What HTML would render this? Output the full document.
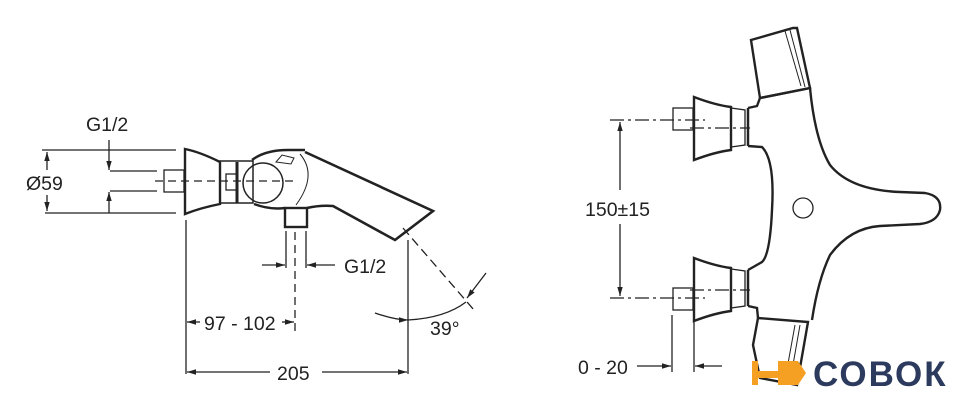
<!DOCTYPE html>
<html><head><meta charset="utf-8"><style>
html,body{margin:0;padding:0;background:#fff;}
svg{display:block;}
text{font-family:"Liberation Sans",sans-serif;font-size:19.5px;fill:#222;}
</style></head><body>
<svg width="970" height="418" viewBox="0 0 970 418" xmlns="http://www.w3.org/2000/svg">
<defs>
<marker id="a" viewBox="0 0 10 10" refX="10" refY="5" markerWidth="9" markerHeight="9" markerUnits="userSpaceOnUse" orient="auto-start-reverse"><path d="M0,2 L10,5 L0,8 z" fill="#222"/></marker>
</defs>
<g stroke="#222" fill="none" stroke-width="1.3">
<line x1="42" y1="150" x2="176" y2="150"/>
<line x1="45" y1="213" x2="176" y2="213"/>
<line x1="47" y1="152" x2="47" y2="170" marker-start="url(#a)"/>
<line x1="47" y1="195" x2="47" y2="211" marker-end="url(#a)"/>
<line x1="109" y1="140" x2="109" y2="170" marker-end="url(#a)"/>
<line x1="109" y1="192" x2="109" y2="213" marker-start="url(#a)"/>
<line x1="110" y1="171" x2="157" y2="171"/>
<line x1="110" y1="191" x2="157" y2="191"/>
<rect x="164" y="170" width="20" height="22"/>
<line x1="155" y1="181" x2="293" y2="181" stroke-dasharray="8,5"/>
<path d="M185,149 Q200,152 220,162 L220,204 Q200,208 185,214 Z" stroke-width="2.4"/>
<rect x="220" y="161" width="33" height="42" stroke-width="1.5"/>
<line x1="237" y1="162" x2="237" y2="203" stroke-width="3"/>
<rect x="226" y="174" width="11" height="16"/>
<circle cx="263" cy="183" r="20" stroke-width="1.5"/>
<path d="M252,160 Q265,150 288,150 L305,150" stroke-width="2.4"/>
<path d="M300,154 Q318,175 296,205" stroke-width="1"/>
<path d="M276,162 l6,-7 l12,3 l-3,6 z" stroke-width="1"/>
<path d="M305,152 L433,211 L395,240 L333,206 Q320,205 307,208" stroke-width="2.6"/>
<path d="M254,204 Q270,210 285,208" stroke-width="2.4"/>
<rect x="285" y="208" width="22" height="19" stroke-width="2.4"/>
<line x1="286" y1="231" x2="286" y2="268"/>
<line x1="306" y1="231" x2="306" y2="268"/>
<line x1="262" y1="265" x2="285" y2="265" marker-end="url(#a)"/>
<line x1="335" y1="265" x2="307" y2="265" marker-end="url(#a)"/>
<line x1="295" y1="232" x2="295" y2="332" stroke-dasharray="8,5"/>
<line x1="186" y1="220" x2="186" y2="374"/>
<line x1="408" y1="240" x2="408" y2="374"/>
<line x1="200" y1="322" x2="187" y2="322" marker-end="url(#a)"/>
<line x1="282" y1="322" x2="294" y2="322" marker-end="url(#a)"/>
<line x1="270" y1="372" x2="187" y2="372" marker-end="url(#a)"/>
<line x1="322" y1="372" x2="407" y2="372" marker-end="url(#a)"/>
<line x1="403" y1="228" x2="474" y2="310" stroke-dasharray="9,5"/>
<path d="M375,313 Q395,320 408,320" marker-end="url(#a)"/>
<path d="M408,320 Q445,318 466,302" />
<line x1="486" y1="273" x2="467" y2="298" marker-end="url(#a)"/>
</g>
<text x="86" y="131">G1/2</text>
<text x="26" y="190">Ø59</text>
<text x="344" y="273">G1/2</text>
<text x="204" y="330">97 - 102</text>
<text x="277" y="380">205</text>
<text x="430" y="335">39°</text>

<g stroke="#222" fill="none" stroke-width="1.3">
<line x1="610" y1="120" x2="705" y2="120" stroke-dasharray="14,4,3,4"/>
<line x1="690" y1="128" x2="750" y2="128" stroke-dasharray="14,4,3,4"/>
<line x1="610" y1="298" x2="705" y2="298" stroke-dasharray="14,4,3,4"/>
<line x1="690" y1="290" x2="750" y2="290" stroke-dasharray="14,4,3,4"/>
<line x1="620" y1="190" x2="620" y2="122" marker-end="url(#a)"/>
<line x1="620" y1="224" x2="620" y2="296" marker-end="url(#a)"/>
<rect x="673" y="108" width="20" height="22"/>
<rect x="673" y="288" width="20" height="22"/>
<path d="M694,97 Q715,105 731,107 L731,150 Q715,152 694,160 Z" stroke-width="2.4"/>
<path d="M694,258 Q715,266 731,268 L731,311 Q715,313 694,321 Z" stroke-width="2.4"/>
<path d="M731,108 L745,110 L745,145 L731,147" />
<path d="M731,269 L745,271 L745,306 L731,308" />
<line x1="748" y1="108" x2="748" y2="146" stroke-width="2.5"/>
<line x1="748" y1="270" x2="748" y2="306" stroke-width="2.5"/>
<path d="M748,108 L757,106 L760,98 L810,88 Q815,140 830,165 Q850,190 900,192 L925,193 Q942,196 940,210 Q937,222 920,224 L880,226 Q850,228 830,255 Q818,280 812,320" stroke-width="2.4"/>
<path d="M748,146 L762,147 Q775,160 772,210 Q770,255 762,262 L748,270" stroke-width="2.4"/>
<path d="M748,306 L757,308 L758,318" stroke-width="2.4"/>
<path d="M751,40 L793,28 L797,28 L810,88 L760,98 Z" stroke-width="2.4"/>
<path d="M785,31 L801,86 M790,30 L805,87" stroke-width="1"/>
<path d="M758,318 L808,322 L797,385 L760,378 L753,345 Z" stroke-width="2.4"/>
<path d="M795,325 L785,380 M800,325 L790,382" stroke-width="1"/>
<circle cx="803" cy="208" r="10"/>
<line x1="672" y1="315" x2="672" y2="372"/>
<line x1="694" y1="315" x2="694" y2="372"/>
<line x1="637" y1="366" x2="671" y2="366" marker-end="url(#a)"/>
<line x1="722" y1="366" x2="695" y2="366" marker-end="url(#a)"/>
</g>
<text x="585" y="216">150±15</text>
<text x="578" y="374">0 - 20</text>
<g fill="#f5a023">
<rect x="752" y="361" width="6" height="24"/>
<rect x="752" y="371" width="30" height="7"/>
<path d="M778,361 L798,361 L806,373 L798,385 L778,385 Z"/>
</g>
<text x="813" y="386" style="font-size:35px;font-weight:bold;fill:#2c3b5d;letter-spacing:2px">СОВОК</text>
</svg>
</body></html>
